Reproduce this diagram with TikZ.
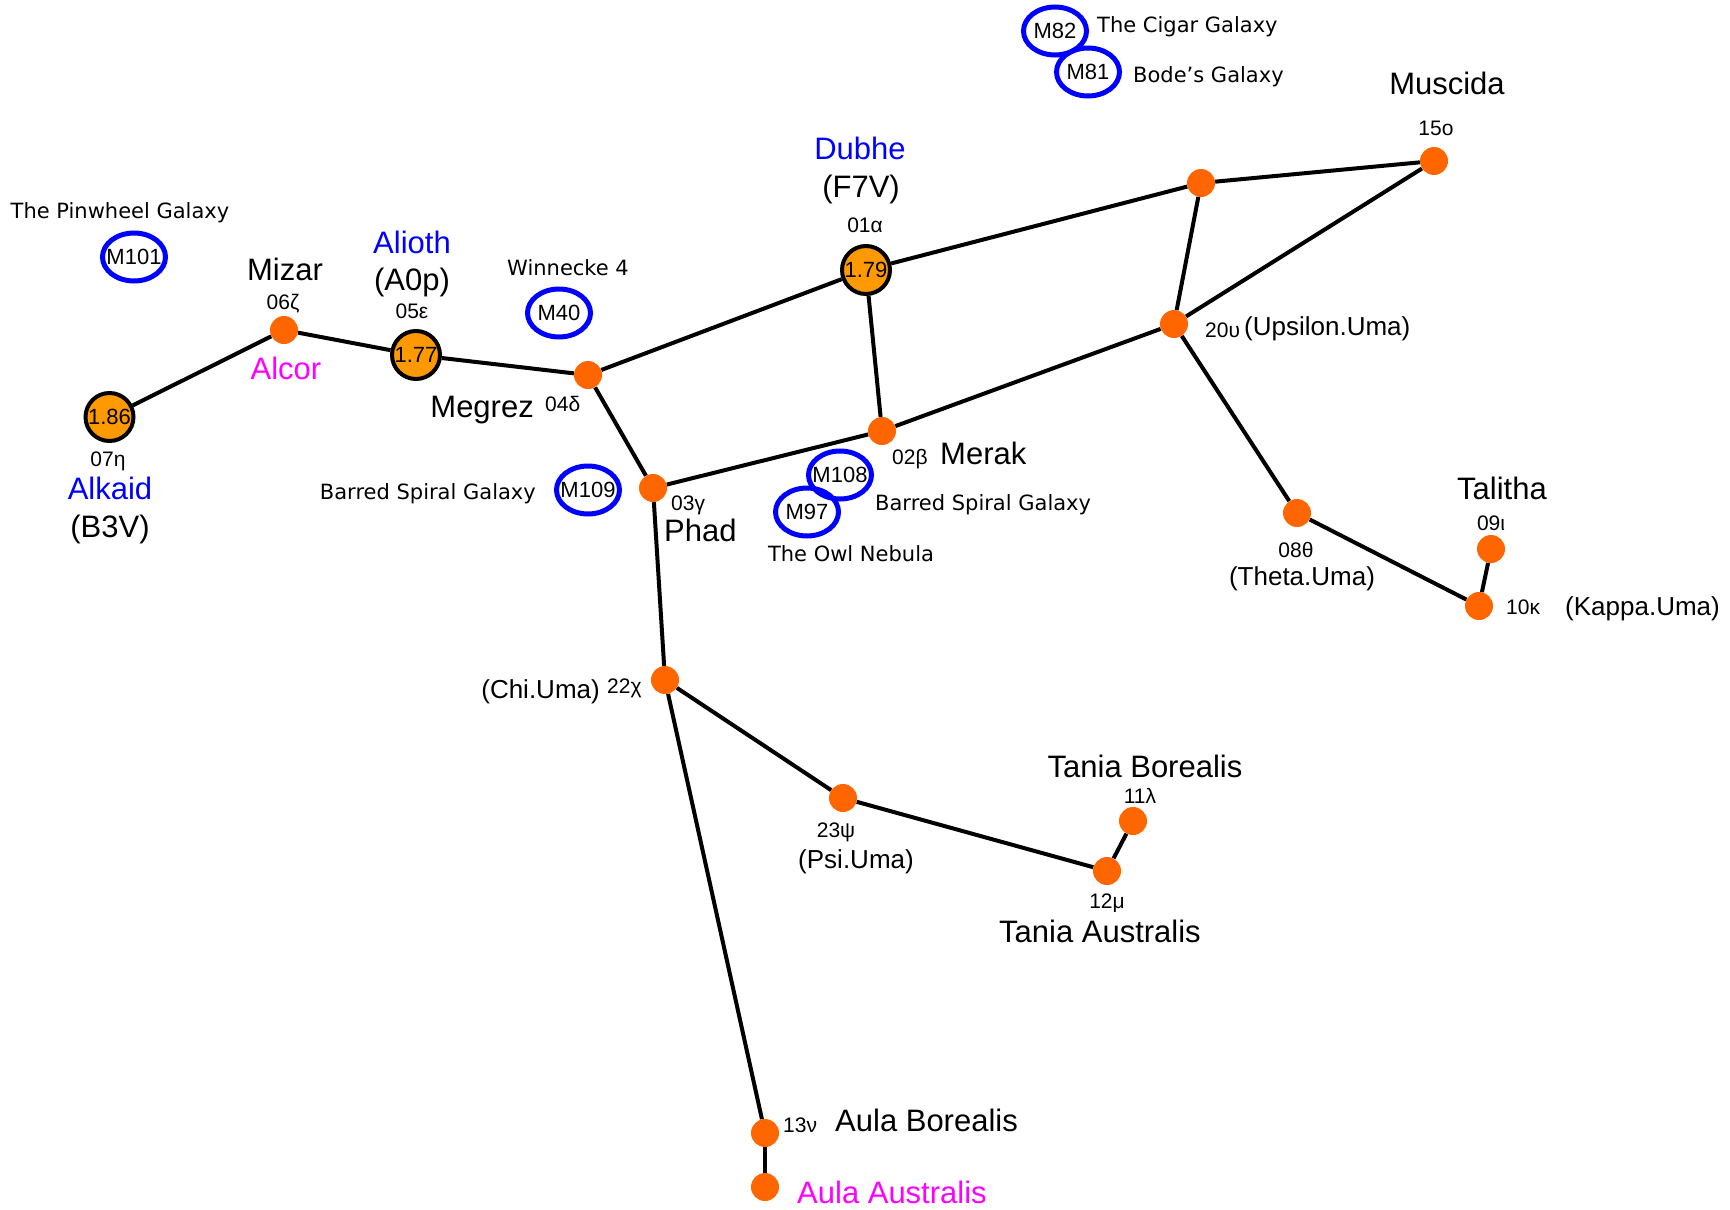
\documentclass[tikz,border=0pt]{standalone}
\usepackage{fontspec}
\setmainfont{Liberation Sans}
\newfontfamily\verdfont{DejaVu Sans}
\usetikzlibrary{shapes.geometric,backgrounds}
\definecolor{dotorange}{RGB}{255,102,0}
\definecolor{magorange}{RGB}{255,153,0}
\definecolor{galblue}{RGB}{0,0,255}
\definecolor{namemag}{RGB}{255,0,255}
\newcommand\szbig{\fontsize{31}{36}\selectfont}
\newcommand\szmid{\fontsize{26}{30}\selectfont}
\newcommand\szsml{\fontsize{21}{24}\selectfont}
\newcommand\szmag{\fontsize{22}{24}\selectfont}
\newcommand\szgal{\verdfont\fontsize{21}{24}\selectfont}
\begin{document}
\begin{tikzpicture}[x=1pt,y=-1pt,
  edge/.style={line width=4pt, black},
  dot/.style={circle, fill=dotorange, minimum size=28pt, inner sep=0pt},
  magstar/.style={circle, fill=magorange, draw=black, line width=4pt, minimum size=48pt, inner sep=0pt, font=\szmag},
  gal/.style={ellipse, draw=galblue, line width=5pt, minimum width=63pt, minimum height=48pt, inner sep=0pt},
  lbl/.style={inner sep=0pt},
  big/.style={lbl, font=\szbig},
  mid/.style={lbl, font=\szmid},
  sml/.style={lbl, font=\szsml},
  gtx/.style={lbl, font=\szgal},
  mtx/.style={lbl, font=\szmag}
]
\useasboundingbox (0,0) rectangle (1730,1210);

% stars
\node[magstar] (alkaid) at (109.5,417) {1.86};
\node[dot] (mizar) at (284,330) {};
\node[magstar] (alioth) at (416,355) {1.77};
\node[dot] (megrez) at (588,375) {};
\node[dot] (phad) at (653,488) {};
\node[magstar] (dubhe) at (866,270) {1.79};
\node[dot] (merak) at (882,431) {};
\node[dot] (tr) at (1201,183) {};
\node[dot] (omicron) at (1434,161) {};
\node[dot] (upsilon) at (1174,324) {};
\node[dot] (theta) at (1297,513) {};
\node[dot] (iota) at (1491,549) {};
\node[dot] (kappa) at (1479,606) {};
\node[dot] (chi) at (665,680) {};
\node[dot] (psi) at (843,798) {};
\node[dot] (lambda) at (1133,821) {};
\node[dot] (mu) at (1107,871) {};
\node[dot] (nu) at (765,1133) {};
\node[dot] (aulas) at (765,1187) {};

\begin{scope}[on background layer]
\fill[white] (0,0) rectangle (1730,1210);
\draw[edge] (alkaid) -- (mizar);
\draw[edge] (mizar) -- (alioth);
\draw[edge] (alioth) -- (megrez);
\draw[edge] (megrez) -- (dubhe);
\draw[edge] (megrez) -- (phad);
\draw[edge] (phad) -- (merak);
\draw[edge] (dubhe) -- (merak);
\draw[edge] (dubhe) -- (tr);
\draw[edge] (tr) -- (omicron);
\draw[edge] (tr) -- (upsilon);
\draw[edge] (omicron) -- (upsilon);
\draw[edge] (merak) -- (upsilon);
\draw[edge] (upsilon) -- (theta);
\draw[edge] (theta) -- (kappa);
\draw[edge] (kappa) -- (iota);
\draw[edge] (phad) -- (chi);
\draw[edge] (chi) -- (psi);
\draw[edge] (psi) -- (mu);
\draw[edge] (mu) -- (lambda);
\draw[edge] (chi) -- (nu);
\draw[edge] (nu) -- (aulas);
\end{scope}

% galaxies
\node[gal, label={[mtx]center:M101}] (m101) at (134,257) {};
\node[gal, label={[mtx]center:M40}] (m40) at (559,313) {};
\node[gal, label={[mtx]center:M109}] (m109) at (588,490) {};
\node[gal, label={[mtx]center:M108}] (m108) at (840,475) {};
\node[gal, label={[mtx]center:M97}] (m97) at (807,512) {};
\node[gal, label={[mtx]center:M82}] (m82) at (1055,31) {};
\node[gal, label={[mtx]center:M81}] (m81) at (1088,72) {};

% galaxy descriptions
\node[gtx, anchor=base] (tpin) at (120,218) {The Pinwheel Galaxy};
\node[gtx, anchor=base] (twin) at (568,275) {Winnecke 4};
\node[gtx, anchor=base east] (tbsl) at (536,499) {Barred Spiral Galaxy};
\node[gtx, anchor=base west] (tbsr) at (875,510) {Barred Spiral Galaxy};
\node[gtx, anchor=base] (towl) at (851,561) {The Owl Nebula};
\node[gtx, anchor=base west] (tcig) at (1097,32) {The Cigar Galaxy};
\node[gtx, anchor=base west] (tbod) at (1133,82) {Bode’s Galaxy};

% big names
\node[big, anchor=base] (tmizar) at (285,280) {Mizar};
\node[big, anchor=base east] (tmegrez) at (534,417) {Megrez};
\node[big, anchor=base west] (tphad) at (664,541) {Phad};
\node[big, anchor=base west] (tmerak) at (940,464) {Merak};
\node[big, anchor=base] (tmuscida) at (1447,94) {Muscida};
\node[big, anchor=base] (ttalitha) at (1502,499) {Talitha};
\node[big, anchor=base] (ttanb) at (1145,777) {Tania Borealis};
\node[big, anchor=base] (ttana) at (1100,942) {Tania Australis};
\node[big, anchor=base west] (taulab) at (835,1131) {Aula Borealis};
\node[big, anchor=base] (tf7v) at (861,197) {(F7V)};
\node[big, anchor=base] (ta0p) at (412,290) {(A0p)};
\node[big, anchor=base] (tb3v) at (110,537) {(B3V)};
\node[big, anchor=base, text=galblue] (tdubhe) at (860,159) {Dubhe};
\node[big, anchor=base, text=galblue] (talioth) at (412,253) {Alioth};
\node[big, anchor=base, text=galblue] (talkaid) at (110,499) {Alkaid};
\node[big, anchor=base, text=namemag] (talcor) at (286,379) {Alcor};
\node[big, anchor=base west, text=namemag] (taulaa) at (797,1203) {Aula Australis};

% medium names
\node[mid, anchor=base west] (tups) at (1244,335) {(Upsilon.Uma)};
\node[mid, anchor=base] (tthe) at (1302,585) {(Theta.Uma)};
\node[mid, anchor=base west] (tkap) at (1565,615) {(Kappa.Uma)};
\node[mid, anchor=base east] (tchi) at (600,698) {(Chi.Uma)};
\node[mid, anchor=base] (tpsi) at (856,868) {(Psi.Uma)};

% small designations
\node[sml, anchor=base] (d06) at (283,309) {06ζ};
\node[sml, anchor=base] (d05) at (412,318) {05ε};
\node[sml, anchor=base west] (d04) at (545,411) {04δ};
\node[sml, anchor=base] (d07) at (108,466) {07η};
\node[sml, anchor=base] (d01) at (865,232) {01α};
\node[sml, anchor=base west] (d03) at (671,510) {03γ};
\node[sml, anchor=base west] (d02) at (892,464) {02β};
\node[sml, anchor=base] (d15) at (1436,135) {15ο};
\node[sml, anchor=base west] (d20) at (1205,337) {20υ};
\node[sml, anchor=base] (d09) at (1491,530) {09ι};
\node[sml, anchor=base] (d08) at (1296,557) {08θ};
\node[sml, anchor=base west] (d10) at (1506,614) {10κ};
\node[sml, anchor=base west] (d22) at (607,693) {22χ};
\node[sml, anchor=base] (d23) at (836,837) {23ψ};
\node[sml, anchor=base] (d11) at (1140,803) {11λ};
\node[sml, anchor=base] (d12) at (1107,908) {12μ};
\node[sml, anchor=base west] (d13) at (783,1132) {13ν};
\end{tikzpicture}
\end{document}
